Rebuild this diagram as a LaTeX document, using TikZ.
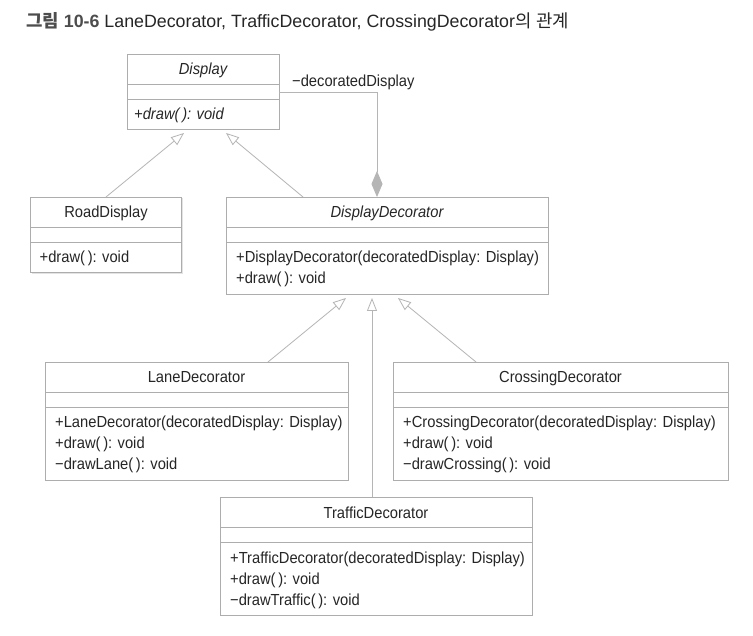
\documentclass[tikz,border=0pt]{standalone}
\usepackage{fontspec}
\setmainfont{Liberation Sans}[FakeStretch=0.92]
\newfontfamily\titlefont{Liberation Sans}
\newfontfamily\cjk{Noto Sans CJK KR}
\usetikzlibrary{arrows.meta,shadows}
\definecolor{boxc}{HTML}{ADADAD}
\definecolor{linec}{HTML}{B5B5B5}
\definecolor{txt}{HTML}{262626}
\definecolor{ttl}{HTML}{4D4D4D}
\newcommand{\umlfont}{\fontsize{16}{19}\selectfont}
\tikzset{
  umlbox/.style={draw=boxc, line width=0.8pt, fill=white, rectangle, inner sep=0pt, outer sep=0pt,
    anchor=north west,
    drop shadow={shadow xshift=1.4pt, shadow yshift=-1.4pt, fill=black!11, opacity=1}},
  divider/.style={draw=boxc, line width=0.8pt},
  clsname/.style={anchor=base, inner sep=0pt, text=txt, font=\umlfont},
  oper/.style={anchor=base west, inner sep=0pt, text=txt, font=\umlfont},
  inherit/.style={draw=linec, line width=0.8pt, -{Triangle[open, length=13pt, width=10pt, fill=white]}},
  assoc/.style={draw=linec, line width=0.8pt, -{Diamond[length=26pt, width=11pt, fill=linec]}},
}
\begin{document}
\begin{tikzpicture}[x=1pt,y=-1pt]
\useasboundingbox[fill=white] (0,0) rectangle (753,636);

% title
\node[anchor=base west, inner sep=0pt, text=txt, font=\titlefont\fontsize{17.8}{21}\selectfont] (title) at (26,28)
  {{\color{ttl}\bfseries{\cjk 그림} 10-6} LaneDecorator, TrafficDecorator, CrossingDecorator{\cjk 의} {\cjk 관계}};

% Display
\node[umlbox, minimum width=152pt, minimum height=75pt] (display) at (127,54) {};
\draw[divider] ([yshift=-30pt]display.north west) -- ([yshift=-30pt]display.north east);
\draw[divider] ([yshift=-45.5pt]display.north west) -- ([yshift=-45.5pt]display.north east);
\node[clsname, font=\umlfont\itshape] (displayN) at ([yshift=-20.5pt]display.north) {Display};
\node[oper, font=\umlfont\itshape] (displayO1) at ([xshift=7pt,yshift=-66pt]display.north west) {+draw(\,): void};

% RoadDisplay
\node[umlbox, minimum width=151pt, minimum height=75.5pt] (road) at (30.5,197) {};
\draw[divider] ([yshift=-30pt]road.north west) -- ([yshift=-30pt]road.north east);
\draw[divider] ([yshift=-45pt]road.north west) -- ([yshift=-45pt]road.north east);
\node[clsname] (roadN) at ([yshift=-21pt]road.north) {RoadDisplay};
\node[oper] (roadO1) at ([xshift=9pt,yshift=-66pt]road.north west) {+draw(\,): void};

% DisplayDecorator
\node[umlbox, minimum width=322pt, minimum height=97pt] (dd) at (226,197) {};
\draw[divider] ([yshift=-30pt]dd.north west) -- ([yshift=-30pt]dd.north east);
\draw[divider] ([yshift=-45pt]dd.north west) -- ([yshift=-45pt]dd.north east);
\node[clsname, font=\umlfont\itshape] (ddN) at ([yshift=-21pt]dd.north) {DisplayDecorator};
\node[oper] (ddO1) at ([xshift=10pt,yshift=-66pt]dd.north west) {+DisplayDecorator(decoratedDisplay: Display)};
\node[oper] (ddO2) at ([xshift=10pt,yshift=-87pt]dd.north west) {+draw(\,): void};

% LaneDecorator
\node[umlbox, minimum width=303pt, minimum height=118pt] (lane) at (45,362) {};
\draw[divider] ([yshift=-30pt]lane.north west) -- ([yshift=-30pt]lane.north east);
\draw[divider] ([yshift=-45pt]lane.north west) -- ([yshift=-45pt]lane.north east);
\node[clsname] (laneN) at ([yshift=-21pt]lane.north) {LaneDecorator};
\node[oper] (laneO1) at ([xshift=10pt,yshift=-66pt]lane.north west) {+LaneDecorator(decoratedDisplay: Display)};
\node[oper] (laneO2) at ([xshift=10pt,yshift=-87pt]lane.north west) {+draw(\,): void};
\node[oper] (laneO3) at ([xshift=10pt,yshift=-108pt]lane.north west) {−drawLane(\,): void};

% CrossingDecorator
\node[umlbox, minimum width=335pt, minimum height=118pt] (cross) at (393,362) {};
\draw[divider] ([yshift=-30pt]cross.north west) -- ([yshift=-30pt]cross.north east);
\draw[divider] ([yshift=-45pt]cross.north west) -- ([yshift=-45pt]cross.north east);
\node[clsname] (crossN) at ([yshift=-21pt]cross.north) {CrossingDecorator};
\node[oper] (crossO1) at ([xshift=10pt,yshift=-66pt]cross.north west) {+CrossingDecorator(decoratedDisplay: Display)};
\node[oper] (crossO2) at ([xshift=10pt,yshift=-87pt]cross.north west) {+draw(\,): void};
\node[oper] (crossO3) at ([xshift=10pt,yshift=-108pt]cross.north west) {−drawCrossing(\,): void};

% TrafficDecorator
\node[umlbox, minimum width=312pt, minimum height=118pt] (traffic) at (220,497) {};
\draw[divider] ([yshift=-30pt]traffic.north west) -- ([yshift=-30pt]traffic.north east);
\draw[divider] ([yshift=-45pt]traffic.north west) -- ([yshift=-45pt]traffic.north east);
\node[clsname] (trafficN) at ([yshift=-21pt]traffic.north) {TrafficDecorator};
\node[oper] (trafficO1) at ([xshift=10pt,yshift=-66pt]traffic.north west) {+TrafficDecorator(decoratedDisplay: Display)};
\node[oper] (trafficO2) at ([xshift=10pt,yshift=-87pt]traffic.north west) {+draw(\,): void};
\node[oper] (trafficO3) at ([xshift=10pt,yshift=-108pt]traffic.north west) {−drawTraffic(\,): void};

% connector end points
\coordinate (tRoad) at ([xshift=57pt,yshift=-4pt]display.south west);
\coordinate (tDD) at ([xshift=99pt,yshift=-4pt]display.south west);
\coordinate (sDD) at ([xshift=77pt]dd.north west);
\coordinate (tLane) at ([xshift=120pt,yshift=-4pt]dd.south west);
\coordinate (tTraffic) at ([xshift=146pt,yshift=-4pt]dd.south west);
\coordinate (tCross) at ([xshift=172pt,yshift=-4pt]dd.south west);
\coordinate (sLane) at ([xshift=223pt]lane.north west);
\coordinate (sTraffic) at ([xshift=152pt]traffic.north west);
\coordinate (sCross) at ([xshift=83pt]cross.north west);
\coordinate (aStart) at ([yshift=-38pt]display.north east);
\coordinate (aEnd) at ([xshift=151pt]dd.north west);

% generalizations
\draw[inherit] (road.north) -- (tRoad);
\draw[inherit] (sDD) -- (tDD);
\draw[inherit] (sLane) -- (tLane);
\draw[inherit] (sTraffic) -- (tTraffic);
\draw[inherit] (sCross) -- (tCross);

% association
\draw[assoc] (aStart) -| (aEnd);
\node[oper] (assocLbl) at (292,87) {−decoratedDisplay};
\end{tikzpicture}
\end{document}
